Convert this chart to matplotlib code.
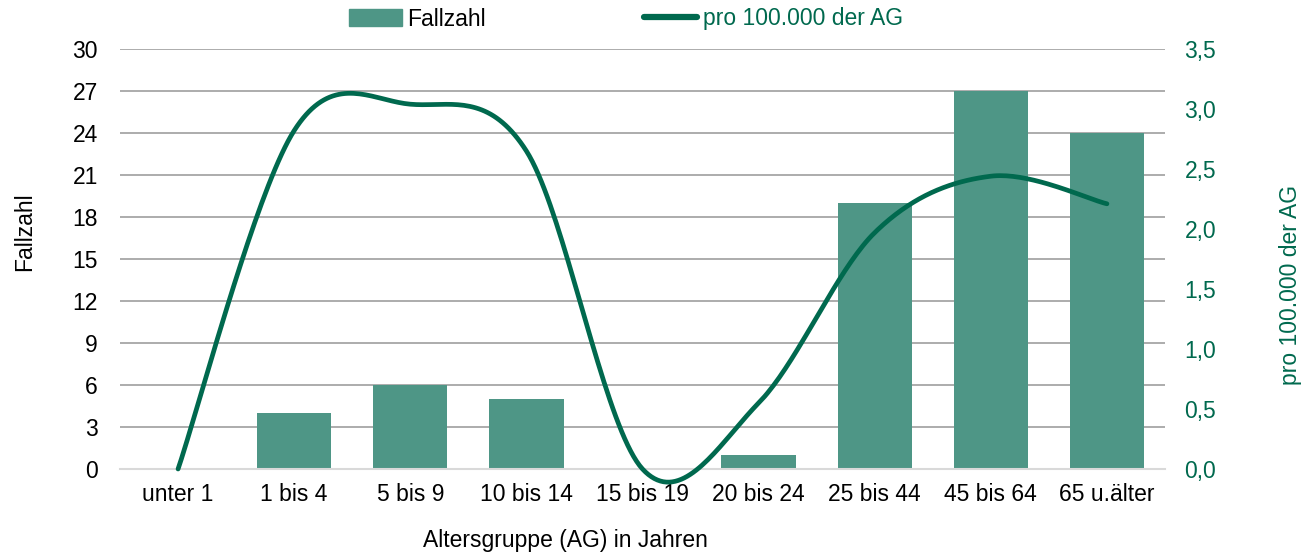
import numpy as np
import matplotlib
matplotlib.use("Agg")
import matplotlib.pyplot as plt
from matplotlib.patches import Patch
from matplotlib.lines import Line2D

plt.rcParams['font.family'] = ['Liberation Sans', 'DejaVu Sans']

# data
gruppen = ["unter 1", "1 bis 4", "5 bis 9", "10 bis 14", "15 bis 19",
           "20 bis 24", "25 bis 44", "45 bis 64", "65 u.älter"]
fallzahl = [0, 4, 6, 5, 0, 1, 19, 27, 24]
pro_100000 = [0.0, 2.82, 3.04, 2.65, 0.0, 0.55, 1.97, 2.44, 2.21]

bar_color = "#4e9686"
line_color = "#00694e"
grid_color = "#a6a6a6"
fs = 16.5


def smooth(xs, ys, n=40):
    # Excel-like smoothed line (Catmull-Rom through the points)
    xs = np.asarray(xs, float)
    ys = np.asarray(ys, float)
    px = np.concatenate([[xs[0]], xs, [xs[-1]]])
    py = np.concatenate([[ys[0]], ys, [ys[-1]]])
    out_x, out_y = [], []
    t = np.linspace(0, 1, n)
    for i in range(1, len(px) - 2):
        p0x, p1x, p2x, p3x = px[i - 1], px[i], px[i + 1], px[i + 2]
        p0y, p1y, p2y, p3y = py[i - 1], py[i], py[i + 1], py[i + 2]
        c1x, c1y = p1x + (p2x - p0x) / 6, p1y + (p2y - p0y) / 6
        c2x, c2y = p2x - (p3x - p1x) / 6, p2y - (p3y - p1y) / 6
        bx = (1 - t)**3 * p1x + 3 * (1 - t)**2 * t * c1x + 3 * (1 - t) * t**2 * c2x + t**3 * p2x
        by = (1 - t)**3 * p1y + 3 * (1 - t)**2 * t * c1y + 3 * (1 - t) * t**2 * c2y + t**3 * p2y
        out_x.extend(bx)
        out_y.extend(by)
    return np.array(out_x), np.array(out_y)


fig = plt.figure(figsize=(13.14, 5.56), dpi=100)
ax = fig.add_axes([120 / 1314, 1 - 469 / 556, 1045 / 1314, 420 / 556])
ax2 = ax.twinx()

x = np.arange(len(gruppen))
ax.bar(x, fallzahl, width=0.64, color=bar_color, zorder=2)
ax.set_xlim(-0.5, len(gruppen) - 0.5)
ax.set_ylim(0, 30)
ax.set_yticks(range(0, 31, 3))
ax.set_xticks(x)
ax.set_xticklabels(gruppen)
ax.yaxis.grid(True, color=grid_color, lw=1.3, zorder=0)
ax.set_axisbelow(True)
for s in ["top", "left", "right"]:
    ax.spines[s].set_visible(False)
ax.spines["bottom"].set_color("#d9d9d9")
ax.spines["bottom"].set_linewidth(1.5)
ax.tick_params(axis="y", length=0, pad=16, labelsize=fs)
ax.tick_params(axis="x", length=0, pad=10, labelsize=fs)

sx, sy = smooth(x, pro_100000)
ax2.plot(sx, sy, color=line_color, lw=3.4, solid_capstyle="round", clip_on=False)
ax2.set_ylim(0, 3.5)
ax2.set_yticks(np.arange(0, 3.51, 0.5))
ax2.set_yticklabels([f"{v:.1f}".replace(".", ",") for v in np.arange(0, 3.51, 0.5)])
ax2.tick_params(axis="y", length=0, pad=14, labelsize=fs, labelcolor=line_color)
for s in ["top", "left", "right", "bottom"]:
    ax2.spines[s].set_visible(False)

fig.text(25 / 1314, 1 - 232 / 556, "Fallzahl", rotation=90, ha="center", va="center", fontsize=fs)
fig.text(1290 / 1314, 1 - 285 / 556, "pro 100.000 der AG", rotation=90, ha="center", va="center",
         fontsize=fs, color=line_color)
fig.text(565 / 1314, 1 - 540 / 556, "Altersgruppe (AG) in Jahren", ha="center", va="center", fontsize=fs)

handles = [Patch(color=bar_color), Line2D([0], [0], color=line_color, lw=4.5, solid_capstyle="round")]
leg = fig.legend(handles, ["Fallzahl", "pro 100.000 der AG"], loc="center", bbox_to_anchor=(626 / 1314, 1 - 19 / 556),
                 ncol=2, frameon=False, fontsize=fs, handlelength=2.3, handleheight=0.8,
                 handletextpad=0.25, columnspacing=6.9)
leg.get_texts()[1].set_color(line_color)

fig.savefig("out.png", dpi=100)
